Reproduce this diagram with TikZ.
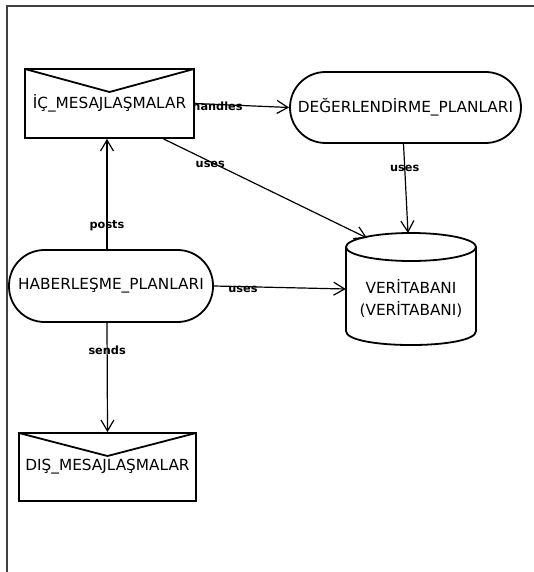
\documentclass[tikz,border=0pt]{standalone}
\usepackage{fontspec}
\setmainfont{DejaVu Sans}
\usetikzlibrary{arrows.meta,calc}
\tikzset{
  shp/.style={draw=black, line width=1.8pt, inner sep=0pt, font=\fontsize{15.3}{18}\selectfont},
  envelope/.style={shp, rectangle, path picture={\draw[line width=1.8pt] (path picture bounding box.north west) -- ([yshift=-23pt]path picture bounding box.north) -- (path picture bounding box.north east);}},
  pill/.style={shp, rectangle, rounded corners=35.5pt},
  conn/.style={draw=black, line width=1.2pt, -{Straight Barb[length=11pt,width=13pt,line width=1.2pt]}},
  lbl/.style={font=\fontsize{11.3}{13}\selectfont\bfseries, inner sep=0pt}
}
\begin{document}
\begin{tikzpicture}[x=1pt,y=-1pt]
\path[use as bounding box] (0,0) rectangle (534,572);
% frame
\draw[line width=1.6pt, black!75] (534,6) -- (7,6) -- (7,572);
% nodes
\node[envelope, minimum width=169, minimum height=69] (ic) at (109.5,103.5) {İÇ\_MESAJLAŞMALAR};
\node[pill, minimum width=231, minimum height=71] (deg) at (405.5,107.5) {DEĞERLENDİRME\_PLANLARI};
\node[pill, minimum width=204, minimum height=72] (hab) at (111,286) {HABERLEŞME\_PLANLARI};
\node[envelope, minimum width=177, minimum height=68] (dis) at (107.5,467) {DIŞ\_MESAJLAŞMALAR};
% cylinder
\node[inner sep=0pt, minimum width=130, minimum height=112] (db) at (411,289) {};
\draw[line width=1.8pt] (411,247) ellipse [x radius=65, y radius=14];
\draw[line width=1.8pt] (346,247) -- (346,331) .. controls (346,349.7) and (476,349.7) .. (476,331) -- (476,247);
\node[align=center, font=\fontsize{15.3}{22}\selectfont, inner sep=0pt] (dbtext) at (411,299) {VERİTABANI\\(VERİTABANI)};
\coordinate (dbt1) at (367,238);
\coordinate (dbt2) at (408,233);
% connectors
\draw[conn] (ic.east) -- node[lbl, pos=0.24, yshift=-2pt] {handles} (deg.west);
\draw[conn] ([xshift=54pt]ic.south) -- node[lbl, pos=0.23, yshift=-3pt] {uses} (dbt1);
\draw[conn] ([xshift=-2pt]deg.south) -- node[lbl, pos=0.27] {uses} (dbt2);
\draw[conn] ([xshift=-4pt]hab.north) -- node[lbl, pos=0.21] {posts} ([xshift=-2.5pt]ic.south);
\draw[conn] (hab.east) -- node[lbl, pos=0.22, yshift=-3pt] {uses} (db.west);
\draw[conn] ([xshift=-4pt]hab.south) -- node[lbl, pos=0.25] {sends} (dis.north);
\end{tikzpicture}
\end{document}
